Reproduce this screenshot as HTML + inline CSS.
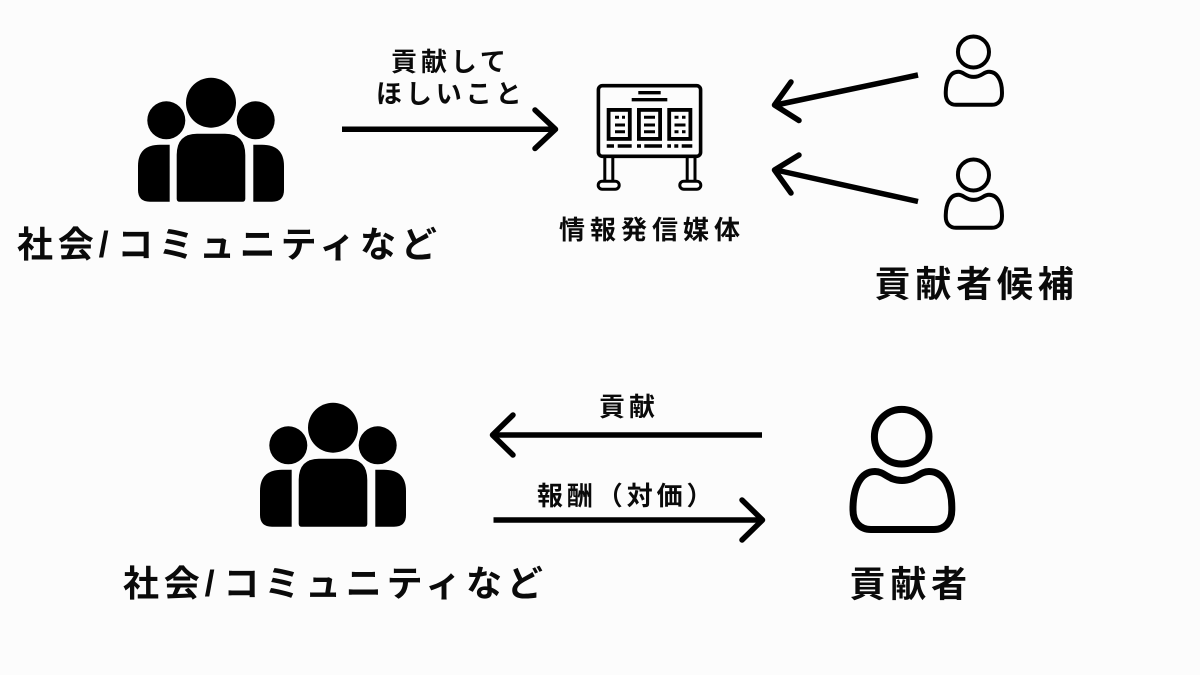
<!DOCTYPE html>
<html lang="ja">
<head>
<meta charset="utf-8">
<style>
html,body{margin:0;padding:0;width:1200px;height:675px;overflow:hidden;background:#fcfcfc}
svg{display:block}
text{font-family:"Liberation Sans","Noto Sans CJK JP",sans-serif;font-weight:700;fill:#0a0a0a}
.big{font-size:36px;letter-spacing:4.8px}
.mid{font-size:26px;letter-spacing:3.9px}
</style>
</head>
<body>
<svg width="1200" height="675" viewBox="0 0 1200 675" xmlns="http://www.w3.org/2000/svg">
<defs>
<g id="group" fill="#000">
<circle cx="211" cy="102.7" r="25"/>
<circle cx="166.3" cy="120.3" r="19"/>
<circle cx="255.7" cy="120.3" r="19"/>
<path d="M197 133.7H225Q245.3 133.7 245.3 155V198.7Q245.3 201.7 242.3 201.7H179.7Q176.7 201.7 176.7 198.7V155Q176.7 133.7 197 133.7Z"/>
<path d="M169.7 144.7V201.7H150Q138 201.7 138 190V166Q138 144.7 160 144.7Z"/>
<path d="M253.3 144.7V201.7H272Q284 201.7 284 190V166Q284 144.7 262 144.7Z"/>
</g>
<g id="person" fill="none" stroke="#000" stroke-width="7">
<circle cx="901.7" cy="436.7" r="27.3"/>
<path d="M853 507C853.5 488 860 471.5 875 471.5C885 471.5 888 480.5 902 480.5C916 480.5 919 471.5 929 471.5C944 471.5 951.8 488 951.8 507V510C951.8 522 945 529.5 934 529.5H871C860 529.5 853 522 853 510Z"/>
</g>
</defs>

<use href="#group"/>
<use href="#group" transform="translate(122,325)"/>

<!-- board -->
<g fill="none" stroke="#000">
<rect x="598.4" y="85.7" width="102.2" height="70.6" rx="4" stroke-width="3.6"/>
<path d="M638.3 92.7H660.7M631.7 99.7H667.3" stroke-width="3.4"/>
<rect x="608.6" y="109.9" width="21.2" height="29" stroke-width="3.8"/>
<rect x="638.9" y="109.9" width="21.2" height="29" stroke-width="3.8"/>
<rect x="669.2" y="109.9" width="21.2" height="29" stroke-width="3.8"/>
<path d="M615 117.3H619M622 117.3H625M615 125H625M615 131.7H625M644 117.3H655M644 125H655M644 131.7H655M674.5 117.3H678.5M682 117.3H685.5M674.5 125H685.5M674.5 131.7H678.5M682 131.7H685.5" stroke-width="3"/>
<path d="M606.7 146H614M617.7 146H631.7M637 146H641M644.3 146H662M667.3 146H671M674.3 146H678.3M681.7 146H692.3" stroke-width="3.4"/>
<path d="M604.8 158V181M612.8 158V181M687.2 158V181M695 158V181" stroke-width="3"/>
<rect x="598.2" y="181.2" width="21" height="8" rx="4" stroke-width="3"/>
<rect x="679.8" y="181.2" width="21" height="8" rx="4" stroke-width="3"/>
</g>

<!-- persons -->
<use href="#person" transform="translate(460.4,-196.5) scale(.569)"/>
<use href="#person" transform="translate(460.4,-73.5) scale(.569)"/>
<use href="#person"/>

<!-- arrows -->
<g fill="none" stroke="#000" stroke-width="5.5" stroke-linecap="round" stroke-linejoin="round">
<path d="M342 129.3H555" stroke-linecap="butt"/>
<path d="M535 110L555.5 129.3L535 148.5"/>
<path d="M918 75L776 105" stroke-linecap="butt"/>
<path d="M791 82L774.5 105L799 120.5"/>
<path d="M918 201.5L776 170" stroke-linecap="butt"/>
<path d="M799 155L774.5 170L791 193"/>
<path d="M762 435H494" stroke-linecap="butt"/>
<path d="M513 415L492.5 435L513 455"/>
<path d="M493.5 520H761" stroke-linecap="butt"/>
<path d="M742 500L762.5 520L742 540"/>
</g>

<!-- labels -->
<text class="big" x="17" y="257">社会/<tspan dx="4">コミュニティなど</tspan></text>
<text class="big" x="123" y="596">社会/<tspan dx="4">コミュニティなど</tspan></text>
<text class="big" x="874.5" y="296.5">貢献者候補</text>
<text class="big" x="849.5" y="596.5">貢献者</text>
<text class="mid" x="391" y="71">貢献して</text>
<text class="mid" x="376" y="103">ほしいこと</text>
<text class="mid" x="559" y="239" style="letter-spacing:5px">情報発信媒体</text>
<text class="mid" x="599" y="416">貢献</text>
<text class="mid" x="537" y="505">報酬（対価）</text>
</svg>
</body>
</html>
